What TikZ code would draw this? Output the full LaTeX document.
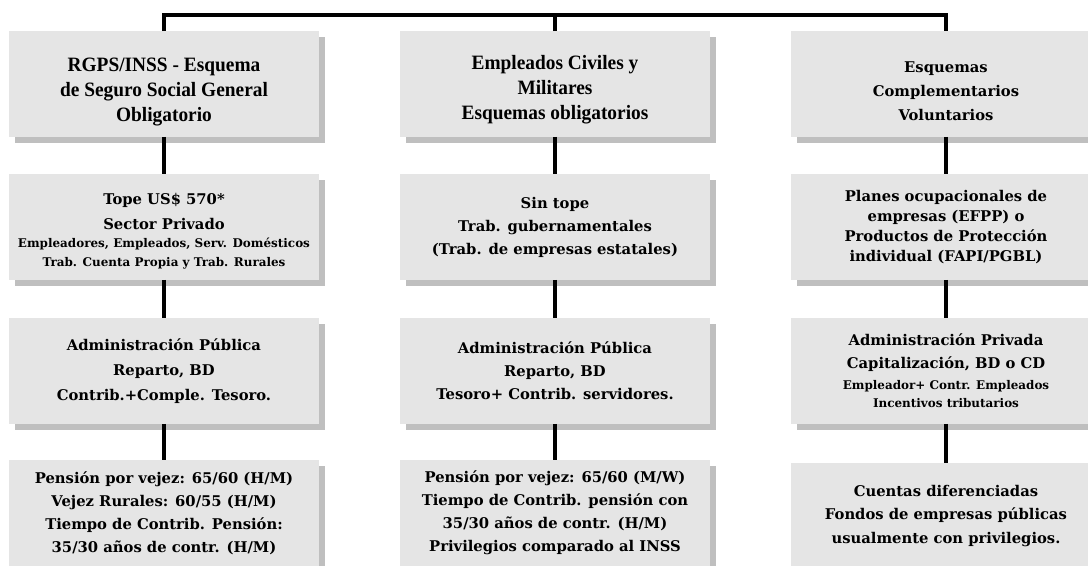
\documentclass[tikz,border=0pt]{standalone}
\usepackage{fontspec}
\usetikzlibrary{shadows}
\newfontfamily\condfont{Liberation Serif}[FakeStretch=0.95]
\newfontfamily\widefont{DejaVu Serif}
\newcommand{\smalltxt}[1]{{\fontsize{8.5}{12}\selectfont #1}}
\newcommand{\headstrut}[1]{\rule{0pt}{#1}}

\begin{document}
\begin{tikzpicture}[x=0.025cm, y=-0.025cm,
  box/.style={fill=black!10, minimum width=7.75cm, minimum height=2.625cm, inner sep=0pt, align=center,
    drop shadow={shadow xshift=0.15cm, shadow yshift=-0.15cm, fill=black!25, opacity=1}},
  cond/.style={font={\condfont\bfseries\fontsize{14.5}{17.8}\selectfont}},
  wide/.style={font={\widefont\bfseries\fontsize{10.5}{16.4}\selectfont}},
  link/.style={line width=2.6pt}]
  \useasboundingbox (0,0) rectangle (1088,566);
  % first row
  \node[box, cond] (a1) at (164,84) {\headstrut{21pt}RGPS/INSS - Esquema\\de Seguro Social General\\Obligatorio};
  \node[box, cond] (b1) at (555,84) {\headstrut{18pt}Empleados Civiles y\\Militares\\Esquemas obligatorios};
  \node[box, wide] (c1) at (946,84) {\headstrut{18pt}Esquemas\\[0.5pt]Complementarios\\[0.5pt]Voluntarios};
  % second row
  \node[box, wide] (a2) at (164,227) {\headstrut{14pt}Tope US\$ 570*\\[2pt]Sector Privado\\[-4pt]
    \smalltxt{Empleadores, Empleados, Serv. Domésticos}\\[-2.5pt]\smalltxt{Trab. Cuenta Propia y Trab. Rurales}};
  \node[box, wide] (b2) at (555,227) {Sin tope\\Trab. gubernamentales\\(Trab. de empresas estatales)};
  \node[box, wide] (c2) at (946,227) {Planes ocupacionales de\\[-2pt]empresas (EFPP) o\\[-2pt]Productos de Protección\\[-2pt]individual (FAPI/PGBL)};
  % third row
  \node[box, wide] (a3) at (164,371) {Administración Pública\\[1.5pt]Reparto, BD\\[1.5pt]Contrib.+Comple. Tesoro.};
  \node[box, wide] (b3) at (555,371) {Administración Pública\\Reparto, BD\\Tesoro+ Contrib. servidores.};
  \node[box, wide] (c3) at (946,371) {Administración Privada\\Capitalización, BD o CD\\[-2pt]
    \smalltxt{Empleador+ Contr. Empleados}\\[-3pt]\smalltxt{Incentivos tributarios}};
  % fourth row
  \node[box, wide] (a4) at (164,513) {Pensión por vejez: 65/60 (H/M)\\Vejez Rurales: 60/55 (H/M)\\Tiempo de Contrib. Pensión:\\35/30 años de contr. (H/M)};
  \node[box, wide] (b4) at (555,513) {Pensión por vejez: 65/60 (M/W)\\Tiempo de Contrib. pensión con\\35/30 años de contr. (H/M)\\Privilegios comparado al INSS};
  \node[box, wide] (c4) at (946,516) {Cuentas diferenciadas\\Fondos de empresas públicas\\usualmente con privilegios.};
  % connectors
  \coordinate (top) at (555,15);
  \draw[link] (a1) |- (top) -| (c1);
  \draw[link] (b1) -- (top);
  \foreach \c in {a,b,c}
    \foreach \r/\s in {1/2,2/3,3/4}
      \draw[link] (\c\r) -- (\c\s);
\end{tikzpicture}
\end{document}
